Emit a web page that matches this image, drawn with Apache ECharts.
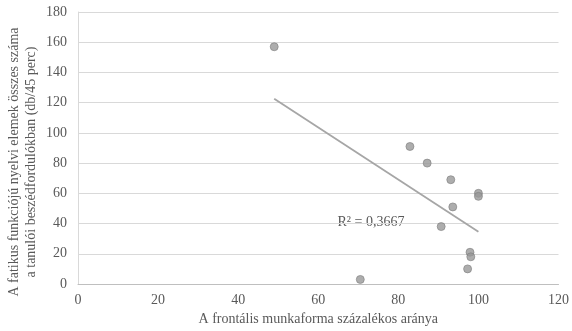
<!DOCTYPE html>
<html><head><meta charset="utf-8">
<script src="https://cdn.jsdelivr.net/npm/echarts@6/dist/echarts.min.js"></script>
<style>html,body{margin:0;padding:0;background:#fff}#c{width:572px;height:331px}</style>
</head><body><div id="c"></div>
<script>
var xValues = [49, 82.9, 87.2, 93.1, 100, 100, 93.6, 90.7, 97.9, 98.1, 97.3, 70.5];
var yValues = [157, 91, 80, 69, 60, 58, 51, 38, 21, 18, 10, 3];
var xTitle = 'A frontális munkaforma százalékos aránya';
var yTitle1 = 'A fatikus funkciójú nyelvi elemek összes száma';
var yTitle2 = 'a tanulói beszédfordulókban (db/45 perc)';
var r2Label = 'R² = 0,3667';

var pts = xValues.map(function(x,i){return [x, yValues[i]];});
var n = xValues.length, mx=0, my=0;
for (var i=0;i<n;i++){mx+=xValues[i];my+=yValues[i];}
mx/=n; my/=n;
var sxy=0,sxx=0;
for (i=0;i<n;i++){sxy+=(xValues[i]-mx)*(yValues[i]-my);sxx+=(xValues[i]-mx)*(xValues[i]-mx);}
var slope=sxy/sxx, icpt=my-slope*mx;
var xmin=Math.min.apply(null,xValues), xmax=Math.max.apply(null,xValues);
var trend=[[xmin,icpt+slope*xmin],[xmax,icpt+slope*xmax]];

var font='"Liberation Serif","Times New Roman",serif';
var txt='#595959';
var chart=echarts.init(document.getElementById('c'));
chart.setOption({
  animation:false,
  grid:{left:78,right:11,top:12,bottom:47},
  xAxis:{type:'value',min:0,max:120,interval:20,
    axisLine:{show:true,lineStyle:{color:'#bfbfbf'}},axisTick:{show:false},
    splitLine:{show:false},
    axisLabel:{color:txt,fontFamily:font,fontSize:14,margin:9},
    name:xTitle,nameLocation:'middle',nameGap:28,
    nameTextStyle:{color:txt,fontFamily:font,fontSize:14}},
  yAxis:{type:'value',min:0,max:180,interval:20,
    axisLine:{show:true,lineStyle:{color:'#d9d9d9'}},axisTick:{show:false},
    splitLine:{show:true,lineStyle:{color:'#d9d9d9'}},
    axisLabel:{color:txt,fontFamily:font,fontSize:14,margin:11}},
  graphic:[
    {type:'text',x:14,y:162,rotation:Math.PI/2,style:{text:yTitle1,fill:txt,font:'14px '+font,textAlign:'center',textVerticalAlign:'middle'}},
    {type:'text',x:31,y:162,rotation:Math.PI/2,style:{text:yTitle2,fill:txt,font:'14px '+font,textAlign:'center',textVerticalAlign:'middle'}},
    {type:'text',x:371,y:222,style:{text:r2Label,fill:txt,font:'14px '+font,textAlign:'center',textVerticalAlign:'middle'}}
  ],
  series:[
    {type:'line',data:trend,symbol:'none',lineStyle:{color:'#a6a6a6',width:1.8},z:1},
    {type:'scatter',data:pts,symbolSize:8,itemStyle:{color:'#999999',borderColor:'#7f7f7f',borderWidth:0.8},z:2}
  ]
});
</script></body></html>
